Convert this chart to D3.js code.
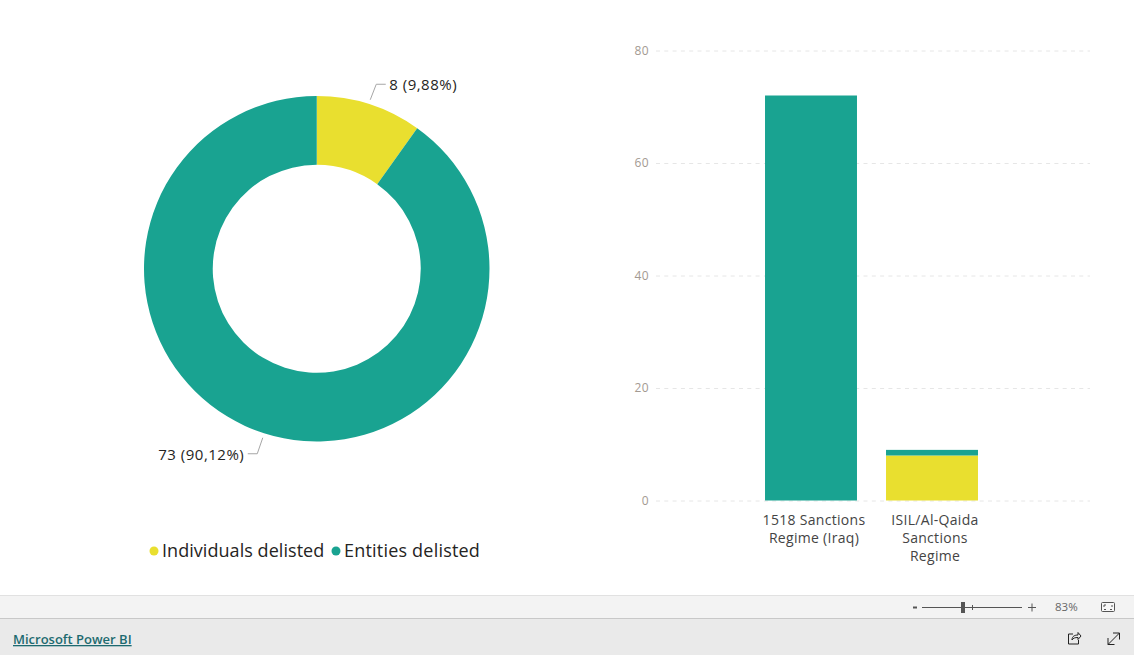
<!DOCTYPE html>
<html>
<head>
<meta charset="utf-8">
<title>Delisted</title>
<script src="https://cdn.jsdelivr.net/npm/d3@7"></script>
<style>
  html, body { margin: 0; padding: 0; background: #fff; overflow: hidden; }
  svg { display: block; }
  text { font-family: "Open Sans", "Noto Sans", sans-serif; }
</style>
</head>
<body>
<div id="chart"></div>
<script>
// donut
var seriesNames = ['Individuals delisted', 'Entities delisted'];
var seriesTotals = [8, 73];
var donutLabels = ['8 (9,88%)', '73 (90,12%)'];

// stacked bars
var regimes = ['1518 Sanctions Regime (Iraq)', 'ISIL/Al-Qaida Sanctions Regime'];
var regimeLines = [['1518 Sanctions', 'Regime (Iraq)'], ['ISIL/Al-Qaida', 'Sanctions', 'Regime']];
var individualsByRegime = [0, 8];
var entitiesByRegime = [72, 1];
var yTicks = [0, 20, 40, 60, 80];

var colors = ['#e9df2f', '#19a391'];

var w = 1134;
var h = 655;

var svg = d3.select('#chart').append('svg')
    .attr('width', w)
    .attr('height', h);

drawDonut();
drawBars();
drawLegend();
drawFooter();

function drawDonut() {
    var g = svg.append('g').attr('transform', 'translate(316.75,268.75)');

    var pie = d3.pie().sort(null);
    var arc = d3.arc().innerRadius(104).outerRadius(172.75);

    g.selectAll('path.slice')
        .data(pie(seriesTotals))
        .enter()
        .append('path')
        .attr('class', 'slice')
        .attr('d', arc)
        .attr('fill', function(d, i) { return colors[i]; });

    // leader lines, offsets from the donut centre
    var leaders = [
        [[53.5, -169], [59.5, -184.5], [69, -184.5]],
        [[-54, 169], [-59.5, 185], [-69, 185]]
    ];
    var line = d3.line();

    g.selectAll('path.leader')
        .data(leaders)
        .enter()
        .append('path')
        .attr('class', 'leader')
        .attr('d', line)
        .attr('fill', 'none')
        .attr('stroke', '#a6a6a6')
        .attr('stroke-width', 1);

    g.selectAll('text')
        .data(donutLabels)
        .enter()
        .append('text')
        .text(function(d) { return d; })
        .attr('x', function(d, i) { return i === 0 ? 72.5 : -72.5; })
        .attr('y', function(d, i) { return i === 0 ? -179 : 191; })
        .attr('text-anchor', function(d, i) { return i === 0 ? 'start' : 'end'; })
        .attr('font-size', 15)
        .attr('letter-spacing', 0.5)
        .attr('fill', '#252423');
}

function drawBars() {
    var x = d3.scaleBand()
        .domain(regimes)
        .range([750.5, 992.5])
        .paddingInner(0.24)
        .paddingOuter(0.12);

    var y = d3.scaleLinear()
        .domain([0, 80])
        .range([500.5, 50.5]);

    var yAxis = d3.axisLeft(y)
        .tickValues(yTicks)
        .tickSize(-434)
        .tickPadding(7);

    var yG = svg.append('g')
        .attr('transform', 'translate(656,0)')
        .call(yAxis);

    yG.select('.domain').remove();
    yG.selectAll('line')
        .attr('stroke', '#e6e6e6')
        .attr('stroke-dasharray', '4 4.3');
    yG.selectAll('text')
        .attr('font-size', 12)
        .attr('letter-spacing', 0.4)
        .attr('fill', '#a39a92')
        .style('font-family', '"Open Sans", sans-serif');

    var rows = regimes.map(function(r, i) {
        return { regime: r, individuals: individualsByRegime[i], entities: entitiesByRegime[i] };
    });
    var stacked = d3.stack().keys(['individuals', 'entities'])(rows);

    svg.selectAll('g.layer')
        .data(stacked)
        .enter()
        .append('g')
        .attr('class', 'layer')
        .attr('fill', function(d, i) { return colors[i]; })
        .selectAll('rect')
        .data(function(d) { return d; })
        .enter()
        .append('rect')
        .attr('x', function(d) { return x(d.data.regime); })
        .attr('y', function(d) { return y(d[1]); })
        .attr('width', x.bandwidth())
        .attr('height', function(d) { return y(d[0]) - y(d[1]); });

    var xAxis = d3.axisBottom(x).tickSize(0).tickFormat('');
    var xG = svg.append('g')
        .attr('transform', 'translate(0,500.5)')
        .call(xAxis);
    xG.select('.domain').remove();

    // the labels sit about 3px right of the bar centres in the original
    xG.selectAll('.tick text').each(function(d, i) {
        var t = d3.select(this)
            .attr('font-size', 14)
            .attr('letter-spacing', 0.3)
            .attr('fill', '#444')
            .attr('y', 0)
            .attr('dy', null)
            .style('font-family', '"Open Sans", sans-serif');
        regimeLines[i].forEach(function(s, k) {
            t.append('tspan').attr('x', 3).attr('y', 24 + k * 18).text(s);
        });
    });
}

function drawLegend() {
    var dotX = [154, 336];
    var g = svg.append('g');

    g.selectAll('circle')
        .data(seriesNames)
        .enter()
        .append('circle')
        .attr('cx', function(d, i) { return dotX[i]; })
        .attr('cy', 551)
        .attr('r', 4.5)
        .attr('fill', function(d, i) { return colors[i]; });

    g.selectAll('text')
        .data(seriesNames)
        .enter()
        .append('text')
        .text(function(d) { return d; })
        .attr('x', function(d, i) { return dotX[i] + 8; })
        .attr('y', 557)
        .attr('font-size', 18)
        .attr('letter-spacing', function(d, i) { return i === 0 ? 0.05 : 0.2; })
        .attr('fill', '#252423');
}

function drawFooter() {
    svg.append('rect').attr('x', 0).attr('y', 595).attr('width', w).attr('height', 23).attr('fill', '#f3f3f3');
    svg.append('rect').attr('x', 0).attr('y', 595).attr('width', w).attr('height', 1).attr('fill', '#e1e1e1');
    svg.append('rect').attr('x', 0).attr('y', 618).attr('width', w).attr('height', 37).attr('fill', '#eaeaea');
    svg.append('rect').attr('x', 0).attr('y', 618).attr('width', w).attr('height', 1).attr('fill', '#c8c8c8');

    svg.append('text')
        .text('Microsoft Power BI')
        .attr('x', 13)
        .attr('y', 644)
        .attr('font-size', 13)
        .attr('font-weight', 600)
        .attr('fill', '#1d6a70')
        .attr('text-decoration', 'underline');

    // zoom slider
    var bar = svg.append('g').attr('stroke', '#555').attr('fill', 'none');
    bar.append('path').attr('d', 'M922 607.5H1022');
    bar.append('path').attr('d', 'M972.5 605V610');
    bar.append('path').attr('d', 'M913 607.5H917').attr('stroke-width', 2);
    bar.append('path').attr('d', 'M1028 607.5H1036M1032 603.5V611.5');
    svg.append('rect').attr('x', 961).attr('y', 602).attr('width', 4).attr('height', 11).attr('fill', '#555');

    svg.append('text')
        .text('83%')
        .attr('x', 1055)
        .attr('y', 611)
        .attr('font-size', 11.5)
        .attr('fill', '#666');

    // fit to page icon
    svg.append('rect').attr('x', 1101.5).attr('y', 602.5).attr('width', 13).attr('height', 9).attr('rx', 1)
        .attr('fill', '#f8f8f8').attr('stroke', '#555');
    svg.append('path').attr('d', 'M1104 607V605H1106M1112 605V607M1104 609.5H1106M1110 609.5H1112')
        .attr('fill', 'none').attr('stroke', '#555');

    // share icon
    svg.append('path')
        .attr('d', 'M1073 634H1068.5V644H1078.5V640M1072 640C1072 636 1075 635 1078 635V632.5L1081 636L1078 639.5V637.5C1075 637.5 1073 638 1072 640Z')
        .attr('fill', 'none').attr('stroke', '#222');

    // expand icon
    svg.append('path')
        .attr('d', 'M1108 644.5L1119.5 633M1113 633H1119.5V639.5M1108 638V644.5H1114.5')
        .attr('fill', 'none').attr('stroke', '#222');
}
</script>
</body>
</html>
